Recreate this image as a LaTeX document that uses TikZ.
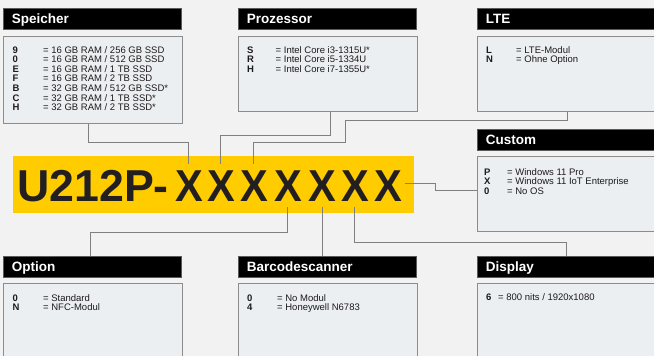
\documentclass[tikz,border=0pt]{standalone}
\usepackage{fontspec}
\setmainfont{Liberation Sans}
\usetikzlibrary{calc}
\definecolor{bg}{HTML}{F2F2F2}
\definecolor{bodyfill}{HTML}{ECEFF2}
\definecolor{boxline}{HTML}{8C8C8C}
\definecolor{hdrline}{HTML}{5A5A5A}
\definecolor{conncol}{HTML}{808080}
\definecolor{yel}{HTML}{FFCC00}
\definecolor{ink}{HTML}{231F20}
\newcommand{\cdtab}[2]{\begin{tabular}[t]{@{}p{#1}@{}l@{}}#2\end{tabular}}
\tikzset{
  hdr/.style={draw=hdrline, line width=0.6pt, fill=black, text=white,
    font=\bfseries\fontsize{13.5pt}{14pt}\selectfont, anchor=north west,
    minimum height=21pt, inner ysep=0pt, inner xsep=8.5pt, text width=#1,
    align=left, text height=10pt, text depth=0pt},
  bodybox/.style 2 args={draw=boxline, line width=0.8pt, fill=bodyfill,
    anchor=north west, minimum width=#1, minimum height=#2, inner sep=0pt},
  bodytxt/.style={anchor=base west, inner sep=0pt, text=ink!85!black,
    font=\fontsize{9.5pt}{9.2pt}\selectfont},
  conn/.style={draw=conncol, line width=0.8pt},
  bigX/.style={anchor=base, inner sep=0pt, text=ink,
    font=\bfseries\fontsize{44.7pt}{46pt}\selectfont},
}
\begin{document}
\begin{tikzpicture}[x=1pt,y=-1pt]
\fill[bg] (0,0) rectangle (654,356);
\clip (0,0) rectangle (654,356);

% top row
\node[hdr=161pt] (sph) at (3,8) {Speicher};
\node[bodybox={179pt}{87pt}] (spb) at (3,36) {};
\node[bodytxt] (spt) at ([xshift=9.5pt,yshift=-17pt]spb.north west)
  {\cdtab{30.5pt}{\textbf{9} & = 16 GB RAM / 256 GB SSD\\
  \textbf{0} & = 16 GB RAM / 512 GB SSD\\
  \textbf{E} & = 16 GB RAM / 1 TB SSD\\
  \textbf{F} & = 16 GB RAM / 2 TB SSD\\
  \textbf{B} & = 32 GB RAM / 512 GB SSD*\\
  \textbf{C} & = 32 GB RAM / 1 TB SSD*\\
  \textbf{H} & = 32 GB RAM / 2 TB SSD*}};

\node[hdr=161pt] (prh) at (238,8) {Prozessor};
\node[bodybox={179pt}{75pt}] (prb) at (238,36) {};
\node[bodytxt] (prt) at ([xshift=9pt,yshift=-17pt]prb.north west)
  {\cdtab{28.5pt}{\textbf{S} & = Intel Core i3-1315U*\\
  \textbf{R} & = Intel Core i5-1334U\\
  \textbf{H} & = Intel Core i7-1355U*}};

\node[hdr=165pt] (lth) at (477,8) {LTE};
\node[bodybox={183pt}{75pt}] (ltb) at (477,36) {};
\node[bodytxt] (ltt) at ([xshift=9pt,yshift=-17pt]ltb.north west)
  {\cdtab{30pt}{\textbf{L} & = LTE-Modul\\
  \textbf{N} & = Ohne Option}};

% custom
\node[hdr=165pt] (cuh) at (477,129) {Custom};
\node[bodybox={183pt}{75pt}] (cub) at (477,156) {};
\node[bodytxt] (cut) at ([xshift=7pt,yshift=-19pt]cub.north west)
  {\cdtab{23pt}{\textbf{P} & = Windows 11 Pro\\
  \textbf{X} & = Windows 11 IoT Enterprise\\
  \textbf{0} & = No OS}};

% bottom row
\node[hdr=161pt] (oph) at (3,256) {Option};
\node[bodybox={179pt}{90pt}] (opb) at (3,283) {};
\node[bodytxt] (opt) at ([xshift=9.5pt,yshift=-18pt]opb.north west)
  {\cdtab{30.5pt}{\textbf{0} & = Standard\\
  \textbf{N} & = NFC-Modul}};

\node[hdr=161pt] (bah) at (238,256) {Barcodescanner};
\node[bodybox={179pt}{90pt}] (bab) at (238,283) {};
\node[bodytxt] (bat) at ([xshift=9pt,yshift=-18pt]bab.north west)
  {\cdtab{30pt}{\textbf{0} & = No Modul\\
  \textbf{4} & = Honeywell N6783}};

\node[hdr=165pt] (dih) at (477,256) {Display};
\node[bodybox={183pt}{90pt}] (dib) at (477,283) {};
\node[bodytxt] (dit) at ([xshift=9pt,yshift=-17pt]dib.north west)
  {\cdtab{12pt}{\textbf{6} & = 800 nits / 1920x1080}};

% product code
\node[fill=yel, anchor=north west, minimum width=401pt, minimum height=57pt, inner sep=0pt] (code) at (13,156) {};
\node[bigX, anchor=base west] (pre) at (17,201) {U212P-};
\node[bigX] (x1) at (189,201) {\scalebox{0.93}[1]{X}};
\node[bigX] (x2) at (221,201) {\scalebox{0.93}[1]{X}};
\node[bigX] (x3) at (254,201) {\scalebox{0.93}[1]{X}};
\node[bigX] (x4) at (288.5,201) {\scalebox{0.93}[1]{X}};
\node[bigX] (x5) at (322,201) {\scalebox{0.93}[1]{X}};
\node[bigX] (x6) at (355,201) {\scalebox{0.93}[1]{X}};
\node[bigX] (x7) at (388,201) {\scalebox{0.93}[1]{X}};

% connectors
\draw[conn] ([xshift=-4.5pt]spb.south) -- ++(0,19) -| ([xshift=-1pt,yshift=6pt]x1.north);
\draw[conn] ([xshift=2.5pt]prb.south) -- ++(0,24) -| ([xshift=-1pt,yshift=6pt]x2.north);
\draw[conn] ([xshift=-1.5pt]ltb.south) -- ++(0,9) -- ++(-222,0) -- ++(0,22) -| ([xshift=-1pt,yshift=6pt]x3.north);
\draw[conn] ([xshift=3pt,yshift=2pt]x7.east) -- ++(30,0) -- ++(0,7) coordinate (c1) -- (c1 -| cub.west);
\draw[conn] ([xshift=-1.5pt,yshift=-6pt]x4.south) -- ++(0,25) -| ([xshift=-1.5pt]oph.north);
\draw[conn] ([yshift=-6pt]x5.south) -- (x5.south |- bah.north);
\draw[conn] ([xshift=-1pt,yshift=-6pt]x6.south) -- ++(0,35) -| ([xshift=-1.5pt]dih.north);
\end{tikzpicture}
\end{document}
